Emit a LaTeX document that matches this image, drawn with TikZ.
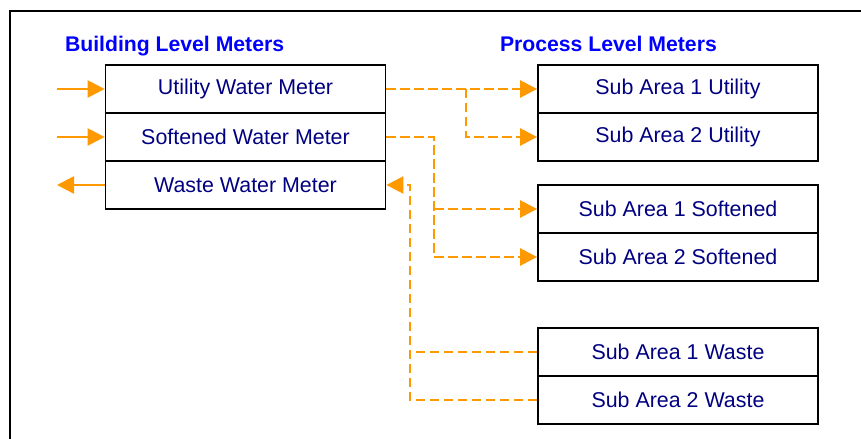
\documentclass[tikz,border=0pt]{standalone}
\usepackage{fontspec}
\setmainfont{Liberation Sans}
\usetikzlibrary{arrows.meta}
\definecolor{flow}{RGB}{255,153,0}
\definecolor{navy}{RGB}{0,0,128}
\definecolor{headblue}{RGB}{0,0,255}

\begin{document}
\begin{tikzpicture}[x=1bp, y=-1bp, line width=2bp,
    meter/.style={draw=black, line width=1.8bp, minimum width=280bp, minimum height=48bp,
      inner sep=0pt, text=navy, font=\fontsize{21.4bp}{25bp}\selectfont},
    head/.style={anchor=base west, inner sep=0pt, text=headblue,
      font=\fontsize{21.2bp}{25bp}\selectfont\bfseries},
    pipe/.style={flow, line width=2.5bp, -{Triangle[length=17bp,width=17bp]}},
    subpipe/.style={pipe, dash pattern=on 9.5bp off 4.5bp}]
  \useasboundingbox (0,0) rectangle (861,439);
  % frame
  \draw[line width=2.5bp] (10,439) -- (10,11) -- (861,11);

  % headings
  \node[head] (bhead) at (64,52) {Building Level Meters};
  \node[head] (phead) at (499,52) {Process Level Meters};

  % building level meters
  \node[meter] (util)  at (245.5,89)  {Utility Water Meter};
  \node[meter] (soft)  at (245.5,137) {Softened Water Meter};
  \node[meter] (waste) at (245.5,185) {Waste Water Meter};

  % process level meters
  \node[meter] (sa1u) at (678,89)  {Sub Area 1 Utility};
  \node[meter] (sa2u) at (678,137) {Sub Area 2 Utility};
  \node[meter] (sa1s) at (678,209) {Sub Area 1 Softened};
  \node[meter] (sa2s) at (678,257) {Sub Area 2 Softened};
  \node[meter] (sa1w) at (678,352) {Sub Area 1 Waste};
  \node[meter] (sa2w) at (678,400) {Sub Area 2 Waste};

  % supply and drain
  \coordinate (inU)  at (57,89);
  \coordinate (inS)  at (57,137);
  \coordinate (outW) at (57,185);
  \draw[pipe] (inU) -- (util.west);
  \draw[pipe] (inS) -- (soft.west);
  \draw[pipe] (waste.west) -- (outW);

  % sub metering
  \coordinate (jU) at (466,89);
  \coordinate (jS) at (434,209);
  \coordinate (jW) at (410,352);
  \draw[subpipe] (util.east) -- (sa1u.west);
  \draw[subpipe] (jU) |- (sa2u.west);
  \draw[subpipe] (soft.east) -| (jS) |- (sa2s.west);
  \draw[subpipe] (jS) -- (sa1s.west);
  \draw[subpipe] (sa2w.west) -| (jW) |- (waste.east);
  \draw[subpipe, -] (sa1w.west) -- (jW);
\end{tikzpicture}
\end{document}
